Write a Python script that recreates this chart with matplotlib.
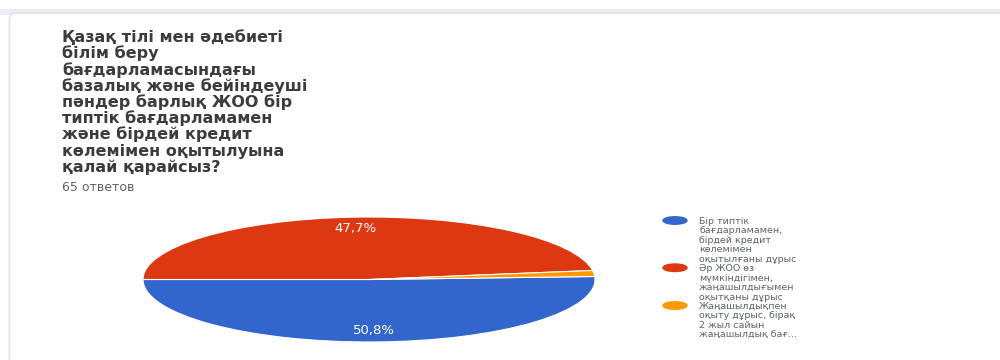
import matplotlib.pyplot as plt
from matplotlib.patches import Ellipse, FancyBboxPatch, Rectangle

# question text and answers (Google Forms summary)
title = ("Қазақ тілі мен әдебиеті\nбілім беру\nбағдарламасындағы\n"
         "базалық және бейіндеуші\nпәндер барлық ЖОО бір\nтиптік бағдарламамен\n"
         "және бірдей кредит\nкөлемімен оқытылуына\nқалай қарайсыз?")
responses = "65 ответов"

labels = [
    "Бір типтік\nбағдарламамен,\nбірдей кредит\nкөлемімен\nоқытылғаны дұрыс",
    "Әр ЖОО өз\nмүмкіндігімен,\nжаңашылдығымен\nоқытқаны дұрыс",
    "Жаңашылдықпен\nоқыту дұрыс, бірақ\n2 жыл сайын\nжаңашылдық бағ...",
]
counts = [33, 31, 1]
colors = ['#3366cc', '#dc3912', '#ff9900']

fig = plt.figure(figsize=(10, 3.6), dpi=100)

# background in pixel coordinates
bg = fig.add_axes([0, 0, 1, 1])
bg.set_xlim(0, 1000)
bg.set_ylim(360, 0)
bg.axis('off')
bg.add_patch(Rectangle((0, 9), 1000, 6, color='#ecebf6', lw=0))
bg.add_patch(FancyBboxPatch((9.5, 13), 1000, 400,
                            boxstyle='round,pad=0,rounding_size=6',
                            fc='white', ec='#e2e2e8', lw=1.2))

for i, line in enumerate(title.split('\n')):
    bg.text(62, 42 + 16.25 * i, line, fontsize=11.5, fontweight='bold',
            color='#3c3c3c', va='baseline')
bg.text(62, 191, responses, fontsize=9, color='#5f6368', va='baseline')

# legend
y0, step = 224, 9.45
row = 0
for lab, col in zip(labels, colors):
    lines = lab.split('\n')
    bg.add_patch(Ellipse((675, y0 + row * step - 3.5), 24, 7.5, color=col))
    for j, ln in enumerate(lines):
        bg.text(699, y0 + (row + j) * step, ln, fontsize=6.8,
                color='#5f6368', va='baseline')
    row += len(lines)

# pie (stretched like the screenshot)
ax = fig.add_axes([143 / 1000, (360 - 342) / 360, 452 / 1000, 125 / 360])
total = sum(counts)
ax.pie(counts, colors=colors, startangle=180 + 360 * counts[0] / total,
       counterclock=False, pctdistance=0.82,
       autopct=lambda p: f'{p:.1f}%'.replace('.', ',') if p > 5 else '',
       wedgeprops=dict(edgecolor='white', linewidth=0.8),
       textprops=dict(color='white', fontsize=9.5))
ax.set_xlim(-1, 1)
ax.set_ylim(-1, 1)
ax.set_aspect('auto')

fig.savefig('out.png', dpi=100)
